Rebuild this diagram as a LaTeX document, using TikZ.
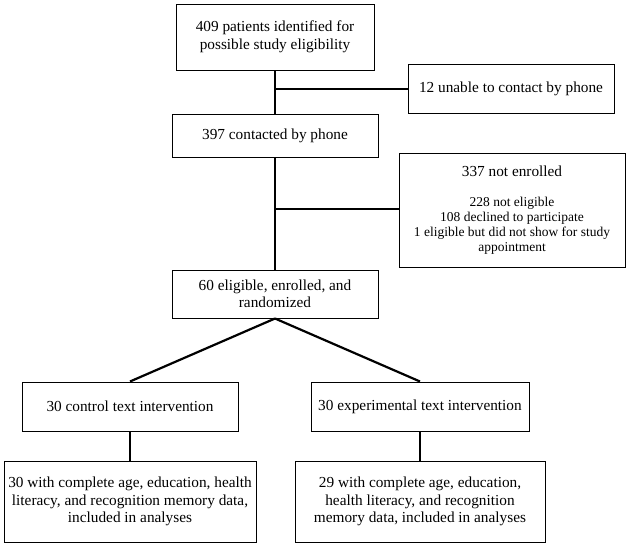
\documentclass[tikz,border=0pt]{standalone}
\usepackage{fontspec}
\setmainfont{Liberation Serif}
\newcommand{\mainsz}{\fontsize{15.3}{17.5}\selectfont}
\newcommand{\subsz}{\fontsize{13.5}{15.2}\selectfont}
\begin{document}
\begin{tikzpicture}[x=1pt,y=-1pt,
  box/.style={draw, line width=1pt, inner sep=0pt, align=center, font=\mainsz},
  conn/.style={line width=2.2pt}]
\useasboundingbox (0,0) rectangle (629,547);
\node[box, minimum width=198pt, minimum height=66pt] (a) at (275,37) {409 patients identified for\\possible study eligibility};
\node[box, minimum width=206pt, minimum height=49pt] (b) at (511,89) {12 unable to contact by phone};
\node[box, minimum width=206pt, minimum height=43pt] (c) at (275,135.5) {397 contacted by phone};
\node[box, font=\subsz, minimum width=226pt, minimum height=114pt] (d) at (512,210.5) {\mainsz 337 not enrolled\\[14pt]\subsz 228 not eligible\\\subsz 108 declined to participate\\\subsz 1 eligible but did not show for study\\\subsz appointment};
\node[box, minimum width=206pt, minimum height=48pt] (e) at (275,294) {60 eligible, enrolled, and\\randomized};
\node[box, minimum width=216pt, minimum height=49pt] (f) at (130,406.5) {30 control text intervention};
\node[box, minimum width=218pt, minimum height=49pt] (g) at (420,406.5) {30 experimental text intervention};
\node[box, minimum width=252pt, minimum height=81pt] (h) at (130,501.5) {30 with complete age, education, health\\literacy, and recognition memory data,\\included in analyses};
\node[box, minimum width=250pt, minimum height=81pt] (i) at (420,501.5) {29 with complete age, education,\\health literacy, and recognition\\memory data, included in analyses};
\coordinate (j1) at (275,89);
\coordinate (j2) at (275,209);
\draw[conn] (a.south) -- (c.north);
\draw[conn] (c.south) -- (e.north);
\draw[conn] (j1) -- (b.west);
\draw[conn] (j2) -- (j2 -| d.west);
\draw[conn] (e.south) -- (f.north);
\draw[conn] (e.south) -- (g.north);
\draw[conn] (f.south) -- (h.north);
\draw[conn] (g.south) -- (i.north);
\end{tikzpicture}
\end{document}
